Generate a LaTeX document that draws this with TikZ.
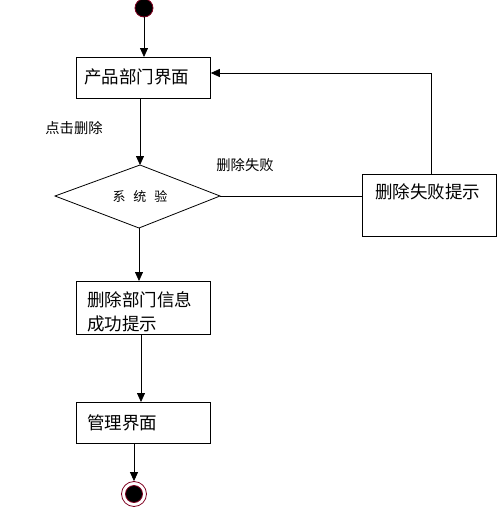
\documentclass[tikz,border=0pt]{standalone}
\usepackage{fontspec}
\setmainfont{Noto Sans CJK SC}
\usetikzlibrary{arrows.meta}
\definecolor{ring}{RGB}{128,0,32}
\begin{document}
\begin{tikzpicture}[x=1pt,y=-1pt,
  line width=0.8pt,
  box/.style={draw,minimum width=134pt,inner sep=0pt,anchor=north west},
  txt/.style={inner sep=0pt,anchor=west,font=\fontsize{17.5}{22}\selectfont,align=left},
  lbl/.style={inner sep=0pt,font=\fontsize{14.3}{17}\selectfont},
  arr/.style={-{Triangle[length=9pt,width=8pt]}}]
\useasboundingbox (0,0) rectangle (497,507);
% start
\node[circle,fill=black,draw=ring,line width=0.8pt,minimum size=18pt,inner sep=0pt] (start) at (144,8) {};
% box1
\node[box,minimum height=41pt] (b1) at (76,57) {};
\node[txt] (t1) at (84,77) {产品部门界面};
% diamond
\coordinate (dc) at (140,196);
\coordinate (dtop) at (140,165);
\coordinate (dbot) at (139,228);
\coordinate (dl) at (55,196);
\coordinate (dr) at (220,196);
\draw (dtop) -- (dr) -- (dbot) -- (dl) -- cycle;
\node[inner sep=0pt,font=\fontsize{13}{15}\selectfont] (dt) at (dc) {系\hspace{8pt}统\hspace{8pt}验};
% fail box
\node[box,minimum width=134pt,minimum height=62pt] (bf) at (362,174) {};
\node[txt] (tf) at (375,192) {删除失败提示};
% box2
\node[box,minimum height=53pt] (b2) at (76,281) {};
\node[txt] (t2) at (87,312) {删除部门信息\\[2pt]成功提示};
% box3
\node[box,minimum height=41pt] (b3) at (76,402) {};
\node[txt] (t3) at (87,423) {管理界面};
% end
\node[circle,draw=ring,line width=0.8pt,minimum size=25pt,inner sep=0pt] (endo) at (134,494) {};
\node[circle,fill=black,draw=ring,line width=0.8pt,minimum size=17pt,inner sep=0pt] (endi) at (134,494) {};
% labels
\node[lbl,anchor=west] (l1) at (45,128) {点击删除};
\node[lbl,anchor=west] (l2) at (216,165) {删除失败};
% connectors
\draw[arr] (start.south) -- (start.south |- b1.north);
\draw[arr] (dtop |- b1.south) -- (dtop);
\draw (dr) -- (dr -| bf.west);
\draw[arr] (431,174) |- (b1.east |- 0,73);
\draw[arr] (dbot) -- (dbot |- b2.north);
\draw[arr] (141,334) -- (141,402);
\draw[arr] (134,443) -- (endo.north);
\end{tikzpicture}
\end{document}
